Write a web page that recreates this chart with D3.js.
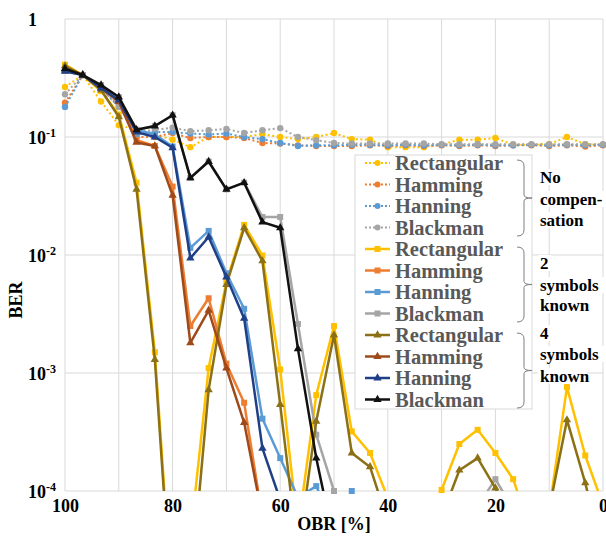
<!DOCTYPE html>
<html>
<head>
<meta charset="utf-8">
<script src="https://cdn.jsdelivr.net/npm/d3@7"></script>
<style>
  body { margin: 0; background: #fff; }
  svg text { font-family: "Liberation Serif", "DejaVu Serif", serif; font-weight: bold; }
</style>
</head>
<body>
<div id="chart"></div>
<script>
// BER vs OBR, three groups of window functions
// x categories (OBR in %)
const obr = [100, 96.7, 93.3, 90, 86.7, 83.3, 80, 76.7, 73.3, 70, 66.7, 63.3, 60, 56.7, 53.3,
             50, 46.7, 43.3, 40, 36.7, 33.3, 30, 26.7, 23.3, 20, 16.7, 13.3, 10, 6.7, 3.3, 0];

// no compensation (dotted)
const noRect  = [0.265,0.335,0.2,0.126,0.115,0.105,0.095,0.082,0.1,0.1,0.1,0.106,0.1,0.096,0.1,0.108,0.096,0.095,0.082,0.082,0.082,0.086,0.095,0.095,0.098,0.086,0.086,0.087,0.1,0.087,0.086];
const noHamm  = [0.195,0.335,0.255,0.19,0.1,0.1,0.108,0.098,0.1,0.1,0.098,0.089,0.088,0.085,0.084,0.084,0.084,0.085,0.084,0.085,0.084,0.085,0.084,0.085,0.084,0.085,0.085,0.084,0.085,0.083,0.085];
const noHann  = [0.18,0.335,0.26,0.18,0.105,0.11,0.11,0.107,0.105,0.107,0.1,0.096,0.089,0.084,0.085,0.085,0.086,0.086,0.085,0.086,0.085,0.086,0.085,0.086,0.085,0.085,0.086,0.085,0.086,0.085,0.086];
const noBlack = [0.23,0.335,0.26,0.18,0.11,0.115,0.12,0.112,0.114,0.117,0.108,0.114,0.119,0.1,0.094,0.089,0.088,0.088,0.088,0.088,0.088,0.087,0.087,0.087,0.087,0.087,0.087,0.087,0.087,0.087,0.087];

// 2 symbols known (squares)
const k2Rect  = [0.41,0.335,0.245,0.155,0.041,0.0015,1e-5,4e-5,0.0011,0.0059,0.018,0.0099,0.00107,4.7e-5,0.00065,0.0025,0.00032,0.00021,8.7e-5,1e-5,1e-5,1.02e-4,0.00025,0.00033,0.00021,0.000126,4.4e-5,6.8e-5,0.00076,0.0002,7.6e-5];
const k2Hamm  = [0.365,0.335,0.26,0.2,0.094,0.084,0.038,0.0025,0.0043,0.0012,0.00056,5.9e-5,null,null,null,null,null,null,null,null,null,null,null,null,null,null,null,null,null,null,null];
const k2Hann  = [0.37,0.335,0.26,0.205,0.115,0.105,0.083,0.0115,0.016,0.007,0.0035,0.00041,0.00019,8.8e-5,1.1e-4,5e-5,1.0e-4,null,null,null,null,null,null,null,null,null,null,null,null,null,null];
const k2Black = [0.38,0.335,0.275,0.218,0.115,0.124,0.153,0.045,0.062,0.036,0.041,0.021,0.021,0.0026,0.0003,1.0e-4,1e-5,null,null,null,null,null,null,7.4e-5,0.000126,7e-5,null,null,null,null,null];

// 4 symbols known (triangles)
const k4Rect  = [0.40,0.335,0.25,0.148,0.036,0.0013,8e-6,1.4e-5,0.00072,0.0056,0.017,0.0089,0.00054,3e-5,0.00039,0.0021,0.00021,0.00016,5.5e-5,null,null,6e-5,0.00015,0.00019,0.000106,5e-5,null,7e-5,0.0004,0.000117,2.9e-5];
const k4Hamm  = [0.37,0.335,0.26,0.2,0.09,0.084,0.032,0.0018,0.0034,0.0011,0.00038,6e-5,null,null,null,null,null,null,null,null,null,null,null,null,null,null,null,null,null,null,null];
const k4Hann  = [0.36,0.335,0.26,0.205,0.11,0.10,0.081,0.0094,0.0142,0.0065,0.0029,0.00023,8.4e-5,null,null,null,null,null,null,null,null,null,null,null,null,null,null,null,null,null,null];
const k4Black = [0.38,0.335,0.275,0.218,0.115,0.124,0.153,0.045,0.062,0.036,0.041,0.019,0.017,0.0016,0.00019,3.7e-5,null,null,null,null,null,null,null,null,null,null,null,null,null,null,null];

const names = ["Rectangular", "Hamming", "Hanning", "Blackman"];
const groupLabels = [["No", "compen-", "sation"], ["2", "symbols", "known"], ["4", "symbols", "known"]];
const xTicks = [100, 80, 60, 40, 20, 0];
const yTicks = [1, 1e-1, 1e-2, 1e-3, 1e-4];
const yTickExp = ["", "-1", "-2", "-3", "-4"];

const series = [
  {name: names[0], values: noRect,  color: "#ffc000", kind: "dot"},
  {name: names[1], values: noHamm,  color: "#ed7d31", kind: "dot"},
  {name: names[2], values: noHann,  color: "#5b9bd5", kind: "dot"},
  {name: names[3], values: noBlack, color: "#a5a5a5", kind: "dot"},
  {name: names[0], values: k2Rect,  color: "#ffc000", kind: "square"},
  {name: names[1], values: k2Hamm,  color: "#ed7d31", kind: "square"},
  {name: names[2], values: k2Hann,  color: "#5b9bd5", kind: "square"},
  {name: names[3], values: k2Black, color: "#a5a5a5", kind: "square"},
  {name: names[0], values: k4Rect,  color: "#8c7015", kind: "tri"},
  {name: names[1], values: k4Hamm,  color: "#9e4a1a", kind: "tri"},
  {name: names[2], values: k4Hann,  color: "#1f3f86", kind: "tri"},
  {name: names[3], values: k4Black, color: "#111111", kind: "tri"}
];

const W = 606, H = 537;
const plot = {left: 65, right: 603, top: 19, bottom: 491};

const svg = d3.select("#chart").append("svg").attr("width", W).attr("height", H);

const x = d3.scaleLinear().domain([100, 0]).range([plot.left, plot.right]);
const y = d3.scaleLog().domain([1e-4, 1]).range([plot.bottom, plot.top]);

// grid
const grid = svg.append("g");
grid.selectAll("line.v").data(d3.range(0, 11)).join("line")
  .attr("x1", d => x(d * 10)).attr("x2", d => x(d * 10))
  .attr("y1", plot.top).attr("y2", plot.bottom)
  .attr("stroke", "#d9d9d9").attr("stroke-width", 1);
grid.selectAll("line.h").data(yTicks).join("line")
  .attr("x1", plot.left).attr("x2", plot.right)
  .attr("y1", d => y(d)).attr("y2", d => y(d))
  .attr("stroke", "#d9d9d9").attr("stroke-width", 1);

// axes
const xAxis = svg.append("g").attr("transform", `translate(0,${plot.bottom})`)
  .call(d3.axisBottom(x).tickValues(xTicks).tickSize(0).tickPadding(8).tickFormat(d3.format("d")));
xAxis.select(".domain").remove();
xAxis.selectAll("text").attr("font-size", 18).attr("fill", "#000")
  .style("font-family", "Liberation Serif").style("font-weight", "bold");

const yAxis = svg.append("g").attr("transform", `translate(${plot.left},0)`)
  .call(d3.axisLeft(y).tickValues(yTicks).tickSize(0).tickFormat(""));
yAxis.select(".domain").remove();
yAxis.selectAll(".tick").each(function(d, i) {
  const t = d3.select(this).select("text")
    .attr("x", -37).attr("dy", "0.35em").attr("text-anchor", "start")
    .attr("font-size", 18).attr("fill", "#000")
    .style("font-family", "Liberation Serif").style("font-weight", "bold");
  if (i === 0) { t.text("1"); }
  else {
    t.append("tspan").text("10");
    t.append("tspan").attr("font-size", 12).attr("dy", "-0.55em").text(yTickExp[i]);
  }
});

svg.append("text").attr("x", (plot.left + plot.right) / 2).attr("y", 530)
  .attr("text-anchor", "middle").attr("font-size", 18).text("OBR [%]");
svg.append("text").attr("transform", "translate(22,300) rotate(-90)")
  .attr("text-anchor", "middle").attr("font-size", 18).text("BER");

// series
svg.append("clipPath").attr("id", "clip").append("rect")
  .attr("x", plot.left).attr("y", plot.top - 5)
  .attr("width", plot.right - plot.left + 5).attr("height", plot.bottom - plot.top + 5);

const line = d3.line()
  .defined(d => d.v !== null)
  .x(d => x(d.x)).y(d => y(d.v));

const triangle = d3.symbol().type(d3.symbolTriangle).size(30);

series.forEach(s => {
  const pts = obr.map((o, i) => ({x: o, v: s.values[i]}));
  const g = svg.append("g");
  g.append("path").datum(pts)
    .attr("clip-path", "url(#clip)")
    .attr("d", line)
    .attr("fill", "none")
    .attr("stroke", s.color)
    .attr("stroke-width", s.kind === "dot" ? 2 : 2.5)
    .attr("stroke-dasharray", s.kind === "dot" ? "2,2.5" : null)
    .attr("stroke-linejoin", "round");
  const shown = pts.filter(d => d.v !== null && d.v >= 1e-4);
  if (s.kind === "dot") {
    g.selectAll("circle").data(shown).join("circle")
      .attr("cx", d => x(d.x)).attr("cy", d => y(d.v)).attr("r", 3.2).attr("fill", s.color);
  } else if (s.kind === "square") {
    g.selectAll("rect").data(shown).join("rect")
      .attr("x", d => x(d.x) - 3).attr("y", d => y(d.v) - 3)
      .attr("width", 6).attr("height", 6).attr("fill", s.color);
  } else {
    g.selectAll("path.m").data(shown).join("path").attr("class", "m")
      .attr("transform", d => `translate(${x(d.x)},${y(d.v)})`)
      .attr("d", triangle).attr("fill", s.color);
  }
});

// legend
const leg = {x: 355, y: 155, w: 177, h: 254, row: 21.5, first: 163};
svg.append("rect").attr("x", leg.x).attr("y", leg.y).attr("width", leg.w).attr("height", leg.h)
  .attr("fill", "#fff").attr("stroke", "#d9d9d9");

const items = svg.append("g").selectAll("g").data(series).join("g")
  .attr("transform", (d, i) => `translate(0,${leg.first + i * leg.row})`);
items.append("line").attr("x1", 365).attr("x2", 390)
  .attr("stroke", d => d.color).attr("stroke-width", d => d.kind === "dot" ? 2 : 2.5)
  .attr("stroke-dasharray", d => d.kind === "dot" ? "2,2" : null);
items.each(function(d) {
  const g = d3.select(this);
  if (d.kind === "dot") g.append("circle").attr("cx", 377.5).attr("r", 3).attr("fill", d.color);
  else if (d.kind === "square") g.append("rect").attr("x", 374.5).attr("y", -3).attr("width", 6).attr("height", 6).attr("fill", d.color);
  else g.append("path").attr("transform", "translate(377.5,0)").attr("d", triangle).attr("fill", d.color);
});
items.append("text").attr("x", 395).attr("dy", "0.35em").attr("font-size", 20.5)
  .attr("fill", "#595959").text(d => d.name);

// braces and group captions
const braceTops = [160, 247, 333], braceBots = [236, 322, 408];
const captionY = [[177, 199, 220], [263, 285, 305], [333, 354, 376]];
groupLabels.forEach((lab, gi) => {
  const t = braceTops[gi], b = braceBots[gi], m = (t + b) / 2;
  svg.append("path")
    .attr("d", `M517,${t} Q524,${t} 524,${t + 6} L524,${m - 3} Q524,${m} 532,${m} Q524,${m} 524,${m + 3} L524,${b - 6} Q524,${b} 517,${b}`)
    .attr("fill", "none").attr("stroke", "#7f7f7f").attr("stroke-width", 1);
  const ty = captionY[gi];
  lab.forEach((txt, j) => {
    svg.append("rect").attr("x", 538).attr("y", ty[j] - 8).attr("width", txt.length * 9 + 4).attr("height", 16).attr("fill", "#fff");
  });
  lab.forEach((txt, j) => {
    svg.append("text").attr("x", 540).attr("y", ty[j]).attr("dy", "0.35em")
      .attr("font-size", 17).attr("fill", "#000").text(txt);
  });
});
</script>
</body>
</html>
